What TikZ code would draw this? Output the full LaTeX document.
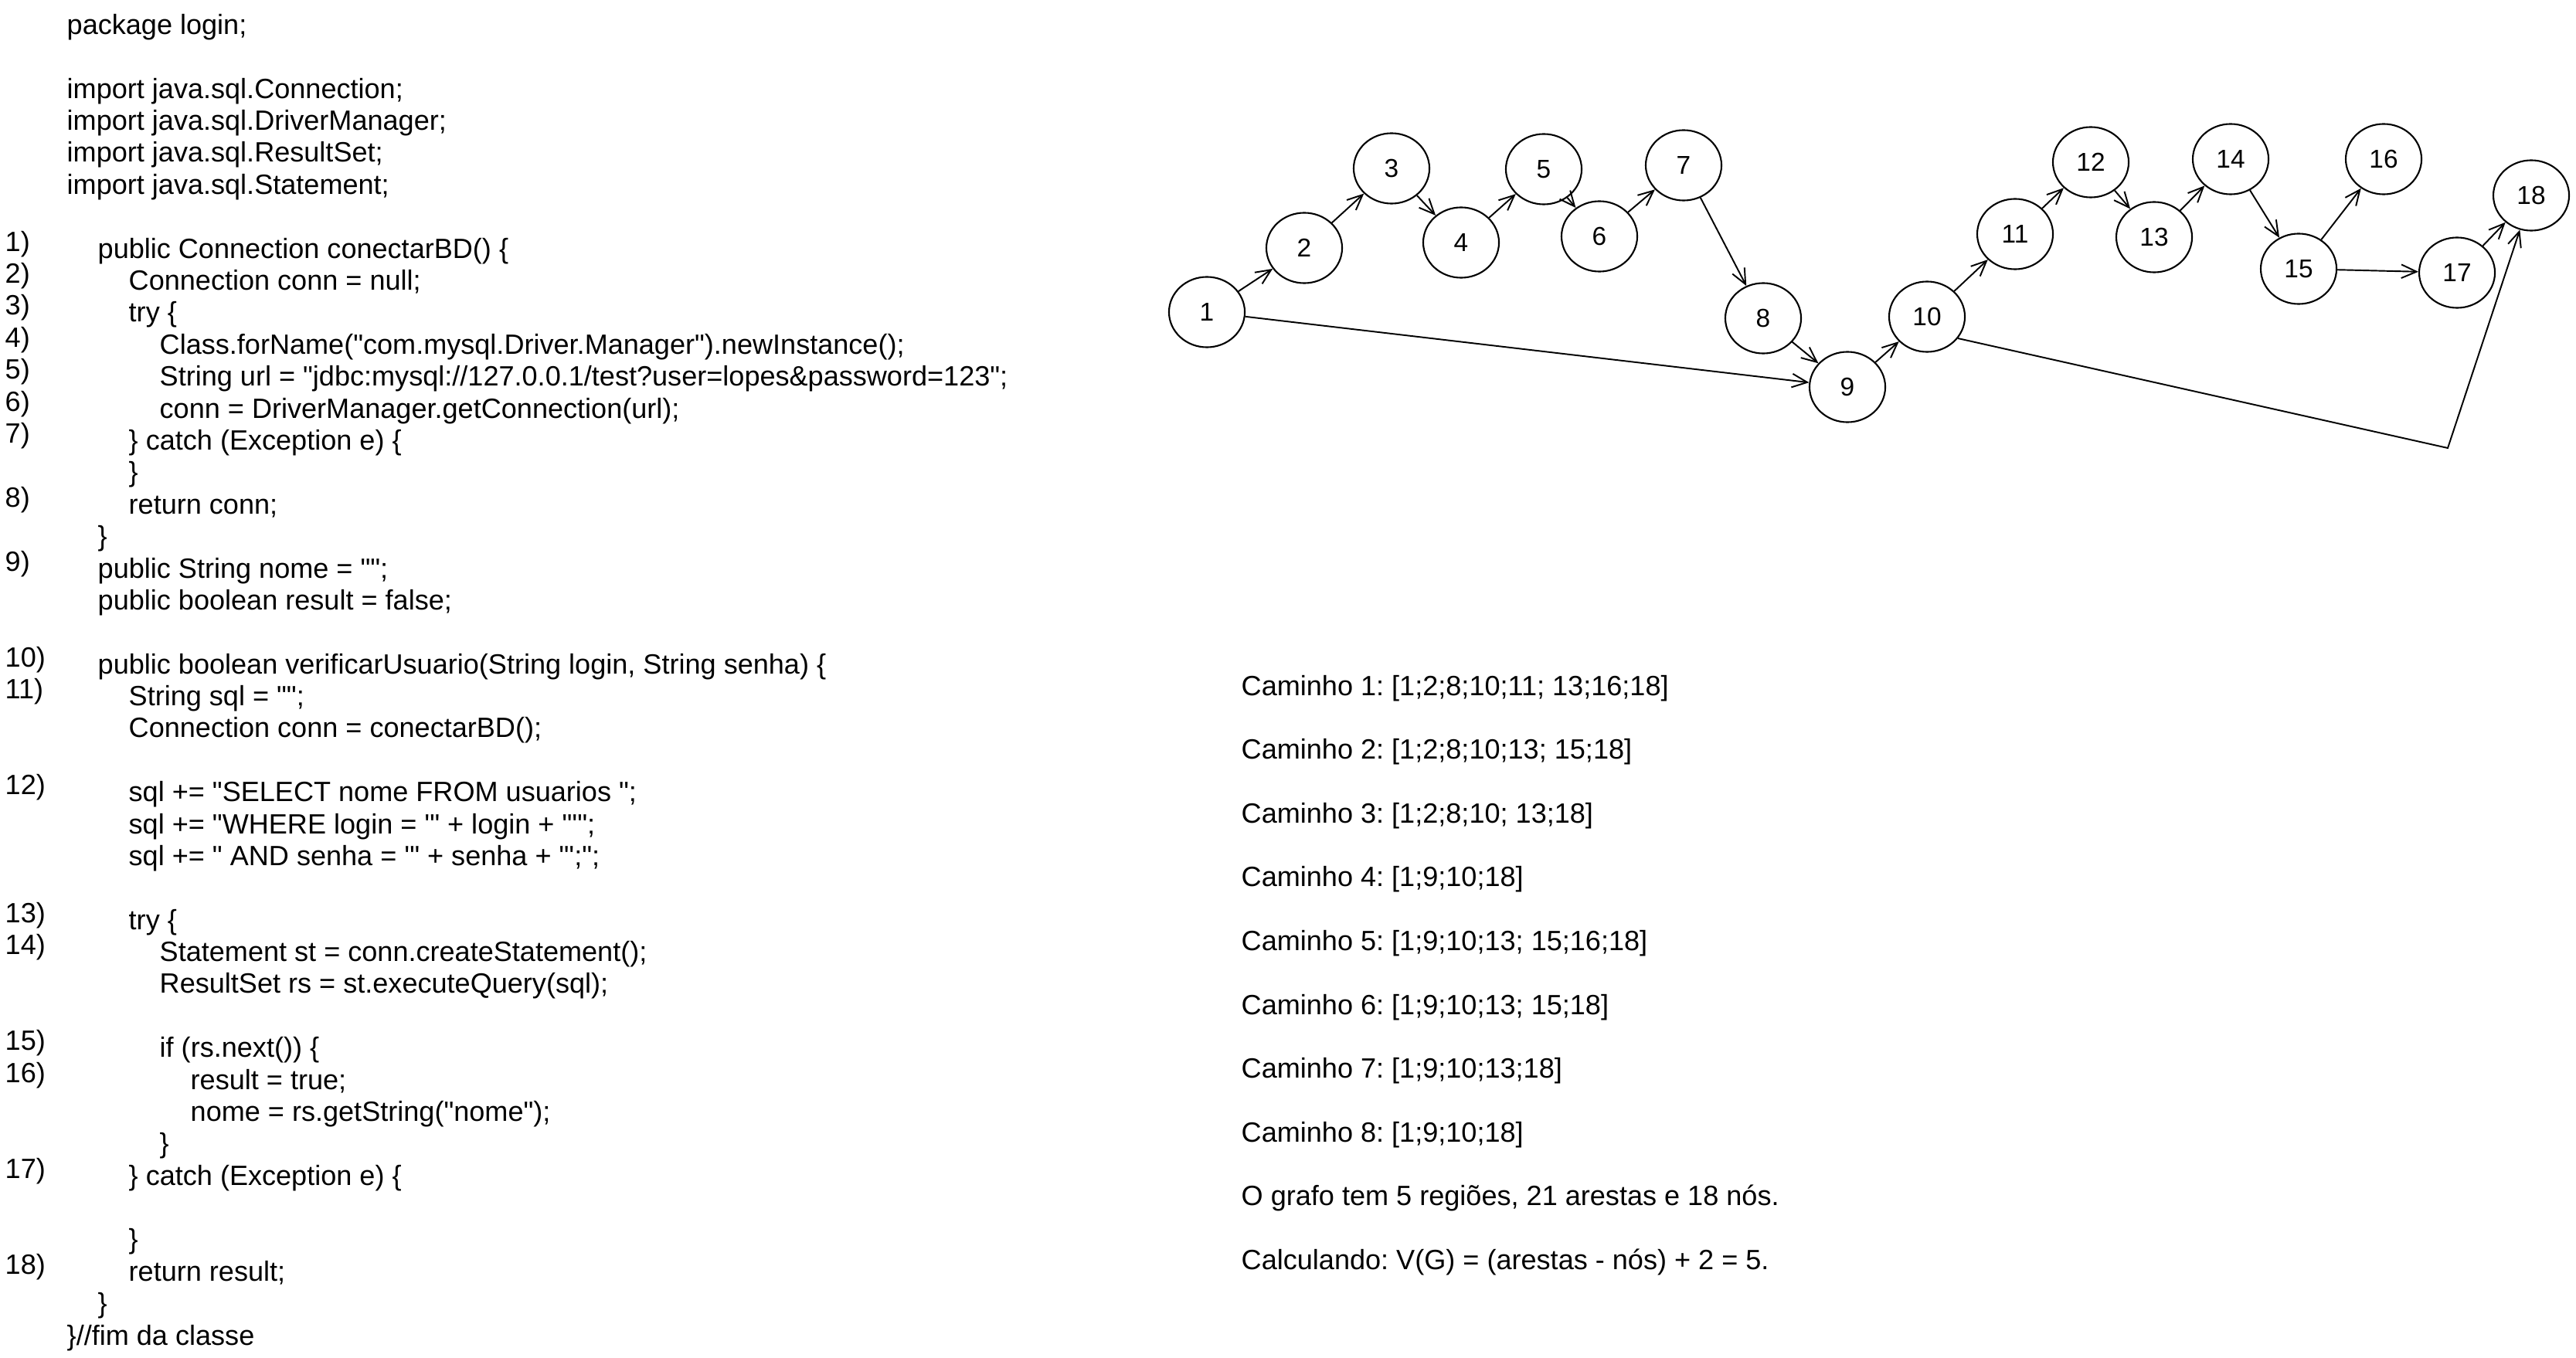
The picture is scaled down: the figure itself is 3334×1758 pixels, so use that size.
\documentclass[tikz,border=0pt]{standalone}
\usepackage{fontspec}
\newfontfamily\arial{Liberation Sans}
\usetikzlibrary{arrows.meta,shapes.geometric}
\frenchspacing

\begin{document}
\begin{tikzpicture}[x=0.01cm, y=-0.01cm,
    codeline/.style={anchor=base west, inner sep=0pt, font=\arial\fontsize{10.26}{12}\selectfont},
    vertex/.style={draw, ellipse, line width=0.6pt, minimum width=0.98cm, minimum height=0.91cm, inner sep=0pt, font=\arial\fontsize{9.5}{11}\selectfont},
    flow/.style={line width=0.55pt, -{Straight Barb[length=5.6pt, width=5pt]}}]
    \useasboundingbox (0,0) rectangle (3334,1758);

    % source code
    \node [codeline] (c0) at (86,44.5) {package login;};
    \node [codeline] (c2) at (86,127.3) {import java.sql.Connection;};
    \node [codeline] (c3) at (86,168.6) {import java.sql.DriverManager;};
    \node [codeline] (c4) at (86,210) {import java.sql.ResultSet;};
    \node [codeline] (c5) at (86,251.4) {import java.sql.Statement;};
    \node [codeline] (c7) at (126,334.2) {public Connection conectarBD() \{};
    \node [codeline] (c8) at (166,375.5) {Connection conn = null;};
    \node [codeline] (c9) at (166,416.9) {try \{};
    \node [codeline] (c10) at (206,458.3) {Class.forName("com.mysql.Driver.Manager").newInstance();};
    \node [codeline] (c11) at (206,499.7) {String url = "jdbc:mysql://127.0.0.1/test?user=lopes\&password=123";};
    \node [codeline] (c12) at (206,541.1) {conn = DriverManager.getConnection(url);};
    \node [codeline] (c13) at (166,582.4) {\} catch (Exception e) \{};
    \node [codeline] (c14) at (166,623.8) {\}};
    \node [codeline] (c15) at (166,665.2) {return conn;};
    \node [codeline] (c16) at (126,706.6) {\}};
    \node [codeline] (c17) at (126,748) {public String nome = "";};
    \node [codeline] (c18) at (126,789.3) {public boolean result = false;};
    \node [codeline] (c20) at (126,872.1) {public boolean verificarUsuario(String login, String senha) \{};
    \node [codeline] (c21) at (166,913.5) {String sql = "";};
    \node [codeline] (c22) at (166,954.9) {Connection conn = conectarBD();};
    \node [codeline] (c24) at (166,1037.6) {sql += "SELECT nome FROM usuarios ";};
    \node [codeline] (c25) at (166,1079) {sql += "WHERE login = '" + login + "'";};
    \node [codeline] (c26) at (166,1120.4) {sql += " AND senha = '" + senha + "';";};
    \node [codeline] (c28) at (166,1203.1) {try \{};
    \node [codeline] (c29) at (206,1244.5) {Statement st = conn.createStatement();};
    \node [codeline] (c30) at (206,1285.9) {ResultSet rs = st.executeQuery(sql);};
    \node [codeline] (c32) at (206,1368.7) {if (rs.next()) \{};
    \node [codeline] (c33) at (246,1410) {result = true;};
    \node [codeline] (c34) at (246,1451.4) {nome = rs.getString("nome");};
    \node [codeline] (c35) at (206,1492.8) {\}};
    \node [codeline] (c36) at (166,1534.2) {\} catch (Exception e) \{};
    \node [codeline] (c38) at (166,1616.9) {\}};
    \node [codeline] (c39) at (166,1658.3) {return result;};
    \node [codeline] (c40) at (126,1699.7) {\}};
    \node [codeline] (c41) at (86,1741.1) {\}//fim da classe};

    % line numbers
    \node [codeline] (l1) at (6,325.2) {1)};
    \node [codeline] (l2) at (6,366.5) {2)};
    \node [codeline] (l3) at (6,407.9) {3)};
    \node [codeline] (l4) at (6,449.3) {4)};
    \node [codeline] (l5) at (6,490.7) {5)};
    \node [codeline] (l6) at (6,532.1) {6)};
    \node [codeline] (l7) at (6,573.4) {7)};
    \node [codeline] (l8) at (6,656.2) {8)};
    \node [codeline] (l9) at (6,739) {9)};
    \node [codeline] (l10) at (6,863.1) {10)};
    \node [codeline] (l11) at (6,904.5) {11)};
    \node [codeline] (l12) at (6,1028.6) {12)};
    \node [codeline] (l13) at (6,1194.1) {13)};
    \node [codeline] (l14) at (6,1235.5) {14)};
    \node [codeline] (l15) at (6,1359.7) {15)};
    \node [codeline] (l16) at (6,1401) {16)};
    \node [codeline] (l17) at (6,1525.2) {17)};
    \node [codeline] (l18) at (6,1649.3) {18)};

    % flow graph
    \node [vertex] (n1) at (1562,404) {1};
    \node [vertex] (n2) at (1688,321) {2};
    \node [vertex] (n3) at (1801,218) {3};
    \node [vertex] (n4) at (1891,314) {4};
    \node [vertex] (n5) at (1998,219) {5};
    \node [vertex] (n6) at (2070,306) {6};
    \node [vertex] (n7) at (2179,214) {7};
    \node [vertex] (n8) at (2282,412) {8};
    \node [vertex] (n9) at (2391,501) {9};
    \node [vertex] (n10) at (2494,410) {10};
    \node [vertex] (n11) at (2608,303) {11};
    \node [vertex] (n12) at (2706,210) {12};
    \node [vertex] (n13) at (2788,307) {13};
    \node [vertex] (n14) at (2887,206) {14};
    \node [vertex] (n15) at (2975,348) {15};
    \node [vertex] (n16) at (3085,206) {16};
    \node [vertex] (n17) at (3180,353) {17};
    \node [vertex] (n18) at (3276,253) {18};
    \coordinate (bend) at (3168,580);

    \draw [flow] (n1)--(n2);
    \draw [flow] (n1)--(n9);
    \draw [flow] (n2)--(n3);
    \draw [flow] (n3)--(n4);
    \draw [flow] (n4)--(n5);
    \draw [flow] (n5)--(n6);
    \draw [flow] (n6)--(n7);
    \draw [flow] (n7)--(n8);
    \draw [flow] (n8)--(n9);
    \draw [flow] (n9)--(n10);
    \draw [flow] (n10)--(n11);
    \draw [flow] (n10.-35)--(bend)--(n18);
    \draw [flow] (n11)--(n12);
    \draw [flow] (n12)--(n13);
    \draw [flow] (n13)--(n14);
    \draw [flow] (n14)--(n15);
    \draw [flow] (n15)--(n16);
    \draw [flow] (n15)--(n17);
    \draw [flow] (n17)--(n18);

    % paths
    \node [codeline] (cam1) at (1606,900) {Caminho 1: [1;2;8;10;11; 13;16;18]};
    \node [codeline] (cam2) at (1606,982.6) {Caminho 2: [1;2;8;10;13; 15;18]};
    \node [codeline] (cam3) at (1606,1065.2) {Caminho 3: [1;2;8;10; 13;18]};
    \node [codeline] (cam4) at (1606,1147.8) {Caminho 4: [1;9;10;18]};
    \node [codeline] (cam5) at (1606,1230.4) {Caminho 5: [1;9;10;13; 15;16;18]};
    \node [codeline] (cam6) at (1606,1313) {Caminho 6: [1;9;10;13; 15;18]};
    \node [codeline] (cam7) at (1606,1395.6) {Caminho 7: [1;9;10;13;18]};
    \node [codeline] (cam8) at (1606,1478.2) {Caminho 8: [1;9;10;18]};
    \node [codeline] (grafo) at (1606,1560.8) {O grafo tem 5 regiões, 21 arestas e 18 nós.};
    \node [codeline] (calc) at (1606,1643.4) {Calculando: V(G) = (arestas - nós) + 2 = 5.};

\end{tikzpicture}
\end{document}
